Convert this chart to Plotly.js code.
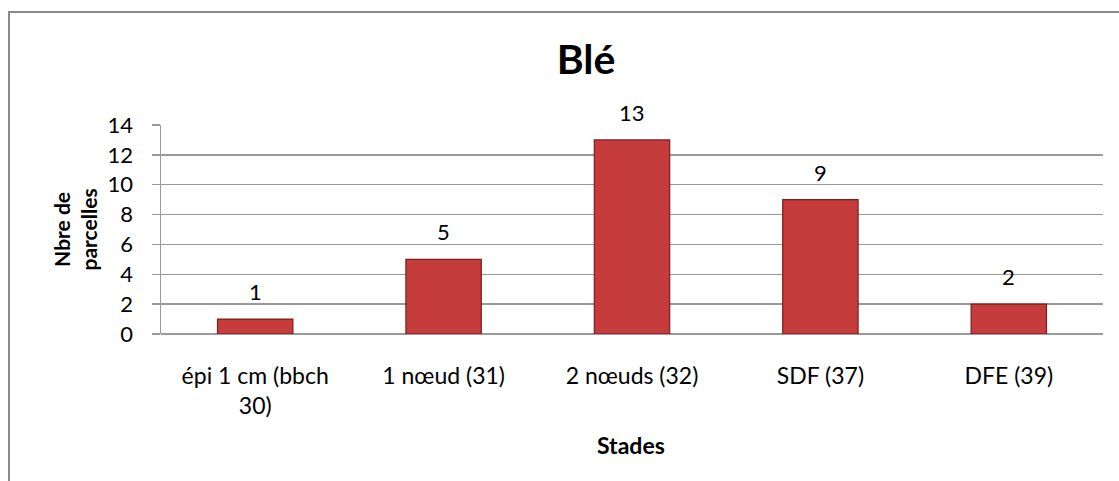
<!DOCTYPE html>
<html>
<head>
<meta charset="utf-8">
<script src="https://cdn.plot.ly/plotly-3.0.1.min.js"></script>
<style>html,body{margin:0;padding:0;background:#fff;}#chart{width:1119px;height:481px;}</style>
</head>
<body>
<div id="chart"></div>
<script>
const categories = ["épi 1 cm (bbch<br>30)", "1 nœud (31)", "2 nœuds (32)", "SDF (37)", "DFE (39)"];
const values = [1, 5, 13, 9, 2];
const yTicks = [0, 2, 4, 6, 8, 10, 12, 14];

const font = "Lato, 'Open Sans', sans-serif";
const L = 161, R = 16, T = 125, B = 147;
const pw = 1119 - L - R, ph = 481 - T - B;
const px = v => (v - L) / pw;
const py = v => (481 - B - v) / ph;

const trace = {
  type: 'bar',
  x: categories,
  y: values,
  marker: {
    color: '#c63b3b',
    line: {color: '#7a1e1e', width: 1.2}
  },
  hoverinfo: 'none'
};

const labelAnnots = categories.map((c, i) => ({
  x: c, y: values[i], xref: 'x', yref: 'y',
  text: String(values[i]), showarrow: false,
  xanchor: 'center', yanchor: 'bottom', yshift: 12,
  font: {family: font, size: 22, color: '#000'}
}));

const layout = {
  width: 1119, height: 481,
  margin: {l: L, r: R, t: T, b: B},
  paper_bgcolor: '#fff', plot_bgcolor: '#fff',
  showlegend: false,
  bargap: 0.6,
  title: {text: '<b>Blé</b>', font: {family: font, size: 41, color: '#000'}, x: 586 / 1119, xanchor: 'center', y: 1 - 60 / 481, yanchor: 'middle'},
  xaxis: {
    type: 'category',
    tickfont: {family: font, size: 23, color: '#000'},
    showgrid: false,
    showline: false,
    ticks: '',
    ticklabelstandoff: 26,
    fixedrange: true
  },
  yaxis: {
    range: [0, 14],
    tickvals: yTicks,
    ticktext: yTicks.map(String),
    tickfont: {family: font, size: 22, color: '#000'},
    showgrid: true,
    gridcolor: '#9a9a9a',
    gridwidth: 1.5,
    zeroline: true,
    zerolinecolor: '#9a9a9a',
    zerolinewidth: 1.5,
    showline: true,
    linecolor: '#9a9a9a',
    linewidth: 1.5,
    ticks: 'outside',
    ticklen: 8,
    tickcolor: '#9a9a9a',
    tickwidth: 1.5,
    ticklabelstandoff: 14,
    fixedrange: true
  },
  annotations: labelAnnots.concat([
    {text: '<b>Nbre de<br>parcelles</b>', xref: 'paper', yref: 'paper', x: px(74), y: 0.5, textangle: -90, showarrow: false, font: {family: font, size: 21, color: '#000'}, xanchor: 'center', yanchor: 'middle'},
    {text: '<b>Stades</b>', xref: 'paper', yref: 'paper', x: px(631), y: py(445), showarrow: false, font: {family: font, size: 23, color: '#000'}, xanchor: 'center', yanchor: 'middle'}
  ]),
  shapes: [
    {type: 'rect', xref: 'paper', yref: 'paper', x0: px(9), x1: px(1130), y0: py(495), y1: py(12), line: {color: '#8a8a8a', width: 2}, fillcolor: 'rgba(0,0,0,0)', layer: 'below'}
  ]
};

Plotly.newPlot('chart', [trace], layout, {displayModeBar: false, staticPlot: true});
</script>
</body>
</html>
